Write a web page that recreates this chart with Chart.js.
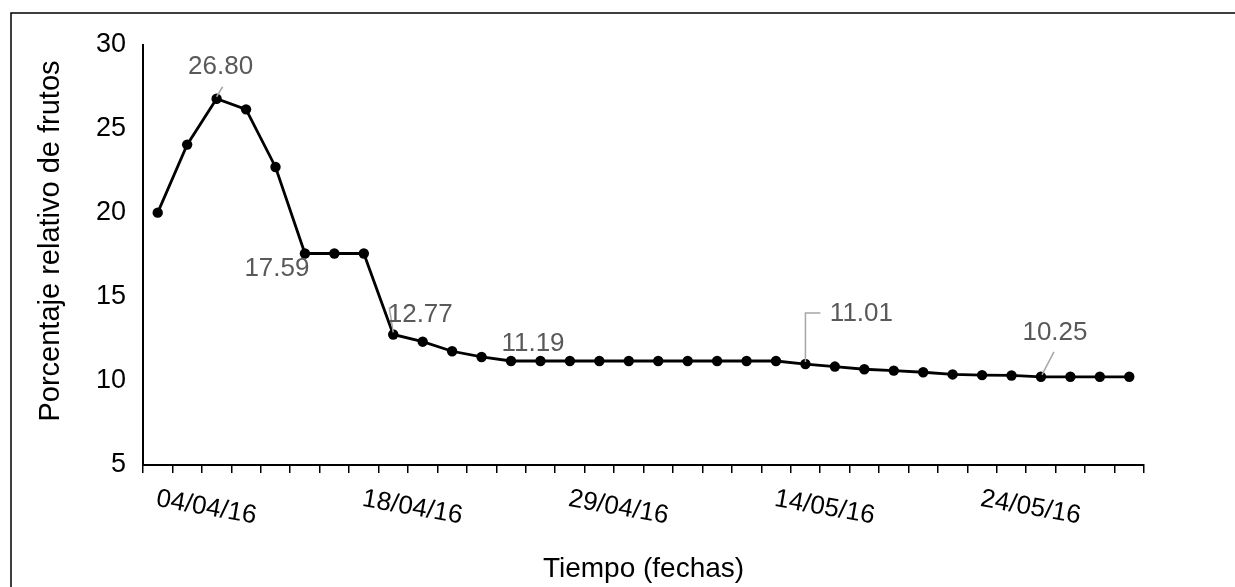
<!DOCTYPE html>
<html>
<head>
<meta charset="utf-8">
<script src="https://cdn.jsdelivr.net/npm/chart.js@4.4.0/dist/chart.umd.min.js"></script>
<style>
  html, body { margin: 0; padding: 0; background: #ffffff; }
  #wrap { position: relative; width: 1235px; height: 587px; }
</style>
</head>
<body>
<div id="wrap"><canvas id="c" width="1235" height="587"></canvas></div>
<script>
// ---- data ----
const categories = ['04/04/16','','','','','','','18/04/16','','','','','','','29/04/16','','','','','','','14/05/16','','','','','','','24/05/16','','','','',''];
const porcentaje = [20.02, 24.07, 26.80, 26.17, 22.74, 17.59, 17.59, 17.59, 12.77, 12.34, 11.77, 11.43,
                    11.19, 11.19, 11.19, 11.19, 11.19, 11.19, 11.19, 11.19, 11.19, 11.19,
                    11.01, 10.86, 10.70, 10.62, 10.52, 10.39, 10.35, 10.33, 10.25, 10.25, 10.25, 10.25];
const labeledPoints = [2, 5, 8, 12, 22, 30];
const yTicks = [5, 10, 15, 20, 25, 30];
const yTitle = 'Porcentaje relativo de frutos';
const xTitle = 'Tiempo (fechas)';

// ---- styling for the data labels (offsets relative to the point) ----
const labelLayout = {
  2:  { dx: 4,   dy: -32, leader: [[0,-2],[6,-12]] },
  5:  { dx: -28, dy: 15 },
  8:  { dx: 27,  dy: -20, leader: [[0,-2],[-4,-27]] },
  12: { dx: 22,  dy: -17 },
  22: { dx: 56,  dy: -50, leader: [[0,-2],[0,-51],[15,-51]] },
  30: { dx: 14,  dy: -44, leader: [[1,-2],[13,-25]] }
};

const FONT = "'Liberation Sans', Arial, sans-serif";

const decorPlugin = {
  id: 'decor',
  beforeDraw(chart) {
    const ctx = chart.ctx;
    ctx.save();
    ctx.fillStyle = '#ffffff';
    ctx.fillRect(0, 0, chart.width, chart.height);
    // outer frame (extends beyond the picture on right/bottom)
    ctx.strokeStyle = '#000000';
    ctx.lineWidth = 1.5;
    ctx.beginPath();
    ctx.moveTo(11, chart.height + 5);
    ctx.lineTo(11, 13);
    ctx.lineTo(chart.width + 5, 13);
    ctx.stroke();
    ctx.restore();
  },
  afterDraw(chart) {
    const ctx = chart.ctx;
    const xs = chart.scales.x;
    const ys = chart.scales.y;

    // y axis title
    ctx.save();
    ctx.fillStyle = '#000000';
    ctx.font = '29px ' + FONT;
    ctx.textAlign = 'center';
    ctx.textBaseline = 'middle';
    ctx.translate(51, 241);
    ctx.rotate(-Math.PI / 2);
    ctx.fillText(yTitle, 0, 0);
    ctx.restore();

    // rotated category labels (clockwise)
    ctx.save();
    ctx.fillStyle = '#000000';
    ctx.font = '26px ' + FONT;
    ctx.textAlign = 'left';
    ctx.textBaseline = 'top';
    categories.forEach((lab, i) => {
      if (!lab) return;
      const x = xs.getPixelForValue(i);
      ctx.save();
      ctx.translate(x + 1, xs.top + 21);
      ctx.rotate(10 * Math.PI / 180);
      ctx.fillText(lab, 0, 0);
      ctx.restore();
    });
    ctx.restore();

    // data labels
    ctx.save();
    ctx.font = '26px ' + FONT;
    ctx.textAlign = 'center';
    ctx.textBaseline = 'middle';
    labeledPoints.forEach(i => {
      const px = xs.getPixelForValue(i);
      const py = ys.getPixelForValue(porcentaje[i]);
      const L = labelLayout[i] || { dx: 0, dy: -25 };
      if (L.leader) {
        ctx.strokeStyle = '#a6a6a6';
        ctx.lineWidth = 1.5;
        ctx.beginPath();
        L.leader.forEach((p, k) => {
          if (k === 0) ctx.moveTo(px + p[0], py + p[1]);
          else ctx.lineTo(px + p[0], py + p[1]);
        });
        ctx.stroke();
      }
      ctx.fillStyle = '#595959';
      ctx.fillText(porcentaje[i].toFixed(2), px + L.dx, py + L.dy);
    });
    ctx.restore();
  }
};

new Chart(document.getElementById('c'), {
  type: 'line',
  data: {
    labels: categories,
    datasets: [{
      data: porcentaje,
      borderColor: '#000000',
      backgroundColor: '#000000',
      borderWidth: 2.8,
      pointRadius: 5.2,
      pointBorderWidth: 0,
      pointBackgroundColor: '#000000',
      tension: 0,
      fill: false
    }]
  },
  options: {
    responsive: false,
    animation: false,
    devicePixelRatio: 1,
    layout: { padding: { top: 45, right: 91, bottom: 0, left: 0 } },
    plugins: { legend: { display: false }, tooltip: { enabled: false } },
    scales: {
      x: {
        type: 'category',
        offset: true,
        afterFit(scale) { scale.height = 122; },
        grid: {
          display: true,
          offset: true,
          drawOnChartArea: false,
          drawTicks: true,
          tickLength: 8,
          color: '#000000',
          lineWidth: 1.5
        },
        border: { display: true, color: '#000000', width: 2 },
        ticks: {
          autoSkip: false,
          maxRotation: 0,
          minRotation: 0,
          callback: () => '',
          font: { size: 1 }
        },
        title: {
          display: true,
          text: xTitle,
          color: '#000000',
          font: { family: FONT, size: 28 },
          padding: { top: 0, bottom: 1 }
        }
      },
      y: {
        min: yTicks[0],
        max: yTicks[yTicks.length - 1],
        afterFit(scale) { scale.width = 143; },
        afterBuildTicks(scale) { scale.ticks = yTicks.map(v => ({ value: v })); },
        grid: { display: false, drawTicks: false },
        border: { display: true, color: '#000000', width: 2 },
        ticks: {
          color: '#000000',
          font: { family: FONT, size: 27 },
          padding: 17
        },
        title: { display: false }
      }
    }
  },
  plugins: [decorPlugin]
});
</script>
</body>
</html>
